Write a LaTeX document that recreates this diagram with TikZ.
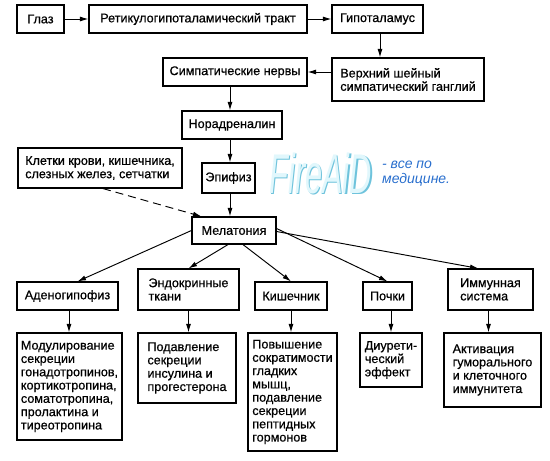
\documentclass[tikz,border=0pt]{standalone}
\usepackage{fontspec}
\setmainfont{Liberation Sans}
\newfontfamily\boxfont{Liberation Sans}[FakeBold=0.6]
\usetikzlibrary{arrows.meta,calc}
\definecolor{wmshade}{RGB}{110,195,220}
\definecolor{wmfill}{RGB}{225,247,252}
\definecolor{wmblue}{RGB}{40,110,205}
\begin{document}
\begin{tikzpicture}[x=1pt,y=-1pt,
  box/.style={draw,line width=1.15pt,inner sep=0pt,align=left,
    font=\boxfont\fontsize{12.6}{13.3}\selectfont},
  arr/.style={line width=0.95pt,-{Latex[length=8.5pt,width=5pt]}},
  dasharr/.style={arr,dash pattern=on 8pt off 5pt},
]
\useasboundingbox (0,0) rectangle (550,461);
% row 1
\node[box,minimum width=47pt,minimum height=28pt] (glaz) at (40.5,19) {Глаз};
\node[box,minimum width=218pt,minimum height=28pt] (tract) at (198,19) {Ретикулогипоталамический тракт};
\node[box,minimum width=91pt,minimum height=28pt] (hyp) at (377.5,19) {Гипоталамус};
% row 2
\node[box,minimum width=152pt,minimum height=43pt] (gang) at (408,79.5) {Верхний шейный\\симпатический ганглий};
\node[box,minimum width=144pt,minimum height=28pt] (symp) at (235,72) {Симпатические нервы};
\node[box,minimum width=100pt,minimum height=28pt] (nor) at (232,125) {Норадреналин};
\node[box,minimum width=164pt,minimum height=40pt] (klet) at (100,168) {Клетки крови, кишечника,\\слезных желез, сетчатки};
\node[box,minimum width=53pt,minimum height=30pt] (epi) at (228.5,178) {Эпифиз};
\node[box,minimum width=84pt,minimum height=27pt] (mel) at (234,230.5) {Мелатония};
% row 3
\node[box,minimum width=101pt,minimum height=28pt] (adeno) at (67.5,296) {Аденогипофиз};
\node[box,minimum width=101pt,minimum height=41pt] (endo) at (188.5,289.5) {Эндокринные\\ткани};
\node[box,minimum width=72pt,minimum height=28pt] (kish) at (291,296) {Кишечник};
\node[box,minimum width=49pt,minimum height=28pt] (poch) at (387.5,296) {Почки};
\node[box,minimum width=85pt,minimum height=41pt] (immun) at (490.5,289.5) {Иммунная\\система};
% row 4
\node[box,minimum width=105pt,minimum height=107pt] (modul) at (69.5,386.5) {Модулирование\\секреции\\гонадотропинов,\\кортикотропина,\\соматотропина,\\пролактина и\\тиреотропина};
\node[box,minimum width=98pt,minimum height=70pt] (podav) at (187,368) {Подавление\\секреции\\инсулина и\\прогестерона};
\node[box,minimum width=89pt,minimum height=118pt] (povy) at (292.5,392) {Повышение\\сократимости\\гладких\\мышц,\\подавление\\секреции\\пептидных\\гормонов};
\node[box,minimum width=62pt,minimum height=54pt] (diur) at (391,360) {Диурети-\\ческий\\эффект};
\node[box,minimum width=97pt,minimum height=74pt] (aktiv) at (492.5,370) {Активация\\гуморального\\и клеточного\\иммунитета};
% watermark
\node[inner sep=0pt,anchor=west,xscale=0.55,text=wmshade,font=\fontsize{56}{56}\selectfont\itshape] (fa0) at (270.5,174.5) {FireAiD};
\node[inner sep=0pt,anchor=west,xscale=0.55,text=wmfill,font=\fontsize{56}{56}\selectfont\itshape] (fa) at (269.3,173.3) {FireAiD};
\node[inner sep=0pt,anchor=north west,align=left,text=wmblue,font=\fontsize{14}{15}\selectfont\itshape] (fatxt) at (382,161) {- все по\\медицине.};
% connectors
\draw[arr] (glaz) -- (tract);
\draw[arr] (tract) -- (hyp);
\draw[arr] ([xshift=2.5pt]hyp.south) -- ([xshift=2.5pt]hyp.south |- gang.north);
\draw[arr] (gang.west |- symp.east) -- (symp.east);
\draw[arr] ([xshift=-5pt]symp.south) -- ([xshift=-5pt]symp.south |- nor.north);
\draw[arr] ([xshift=1.5pt]epi.north |- nor.south) -- ([xshift=1.5pt]epi.north);
\draw[arr] ([xshift=1.5pt]epi.south) -- ([xshift=1.5pt]epi.south |- mel.north);
\draw[dasharr] ([xshift=3pt]klet.south) -- ([xshift=10pt]mel.north west);
\draw[arr] (mel.west) -- ([xshift=10pt]adeno.north);
\draw[arr] ([xshift=-6pt]mel.south) -- (endo.north);
\draw[arr] ([xshift=9pt]mel.south) -- (kish.north);
\draw[arr] ([yshift=2pt]mel.east) -- (poch.north);
\draw[arr] ([yshift=-1pt]mel.east) -- ([xshift=-12pt]immun.north);
\draw[arr] ([xshift=1.5pt]adeno.south) -- ([xshift=1.5pt]adeno.south |- modul.north);
\draw[arr] (endo.south) -- (endo.south |- podav.north);
\draw[arr] (kish.south) -- (kish.south |- povy.north);
\draw[arr] (poch.south -| diur.north) -- (diur.north);
\draw[arr] ([xshift=-2pt]immun.south) -- ([xshift=-2pt]immun.south |- aktiv.north);
\end{tikzpicture}
\end{document}
